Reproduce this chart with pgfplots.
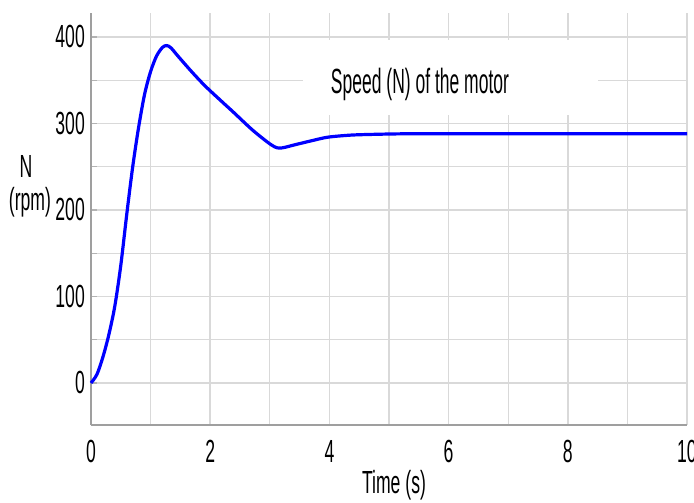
\documentclass[border=0pt]{standalone}
\usepackage{fontspec}
\setmainfont{Liberation Sans}[FakeStretch=0.55]
\newfontfamily\titlefont{Liberation Sans}[FakeStretch=0.5]
\usepackage{pgfplots}
\pgfplotsset{compat=1.18}
\begin{document}
\begin{tikzpicture}
\begin{axis}[name=ax, scale only axis, width=596pt, height=412pt,
  xmin=0, xmax=10, ymin=-48.6, ymax=427.7,
  axis x line*=bottom, axis y line*=left,
  axis line style={-, draw=gray!75, line width=1.6pt},
  xtick={0,2,...,10}, minor xtick={1,3,...,9},
  ytick={0,100,...,400}, minor ytick={50,150,250,350},
  grid=both,
  major grid style={gray!30, line width=1.4pt},
  minor grid style={gray!30, line width=1.4pt},
  tick align=inside,
  xtick style={draw=none},
  ytick style={gray!60, line width=1.4pt},
  major tick length=6pt, minor tick length=6pt,
  /pgf/number format/assume math mode=true,
  ticklabel style={font=\fontsize{32}{34}\selectfont},
  yticklabel style={inner sep=0pt, xshift=-6pt},
  xticklabel style={inner sep=0pt, yshift=-15pt},
  clip=false,
]
\fill[white] (axis cs:3.56,310) rectangle (axis cs:8.5,396.5);
\node[anchor=base, inner sep=0pt, font=\titlefont\fontsize{35}{37}\selectfont] at (axis cs:5.52,335) {Speed (N) of the motor};
\addplot[blue, line width=3.2pt, smooth, tension=0.5] coordinates {
(0,0) (0.1,10) (0.2,30) (0.3,56) (0.4,89) (0.5,136) (0.6,195)
(0.7,250) (0.8,296) (0.9,334) (1.0,360) (1.1,378) (1.2,388)
(1.27,390) (1.34,387.5) (1.47,377) (1.7,359) (1.92,343)
(2.2,325) (2.39,313) (2.7,293) (2.95,279) (3.08,273) (3.16,271.5)
(3.26,272.5) (3.4,275) (3.7,280) (3.96,284) (4.25,286) (4.52,287)
(5.2,288) (6,288) (7,288) (8,288) (9,288) (10,288)
};
\node[anchor=base, inner sep=0pt, font=\fontsize{32}{34}\selectfont, xshift=-65pt] at (axis cs:0,237) {N};
\node[anchor=base, inner sep=0pt, font=\fontsize{32}{34}\selectfont, xshift=-61pt] at (axis cs:0,199) {(rpm)};
\end{axis}
\node[anchor=base, inner sep=0pt, font=\fontsize{32}{34}\selectfont] at ([xshift=5pt,yshift=-68pt]ax.south) {Time (s)};
\pgfresetboundingbox
\path ([xshift=-91pt,yshift=-77pt]ax.south west) rectangle ([xshift=7pt,yshift=13pt]ax.north east);
\end{tikzpicture}
\end{document}
